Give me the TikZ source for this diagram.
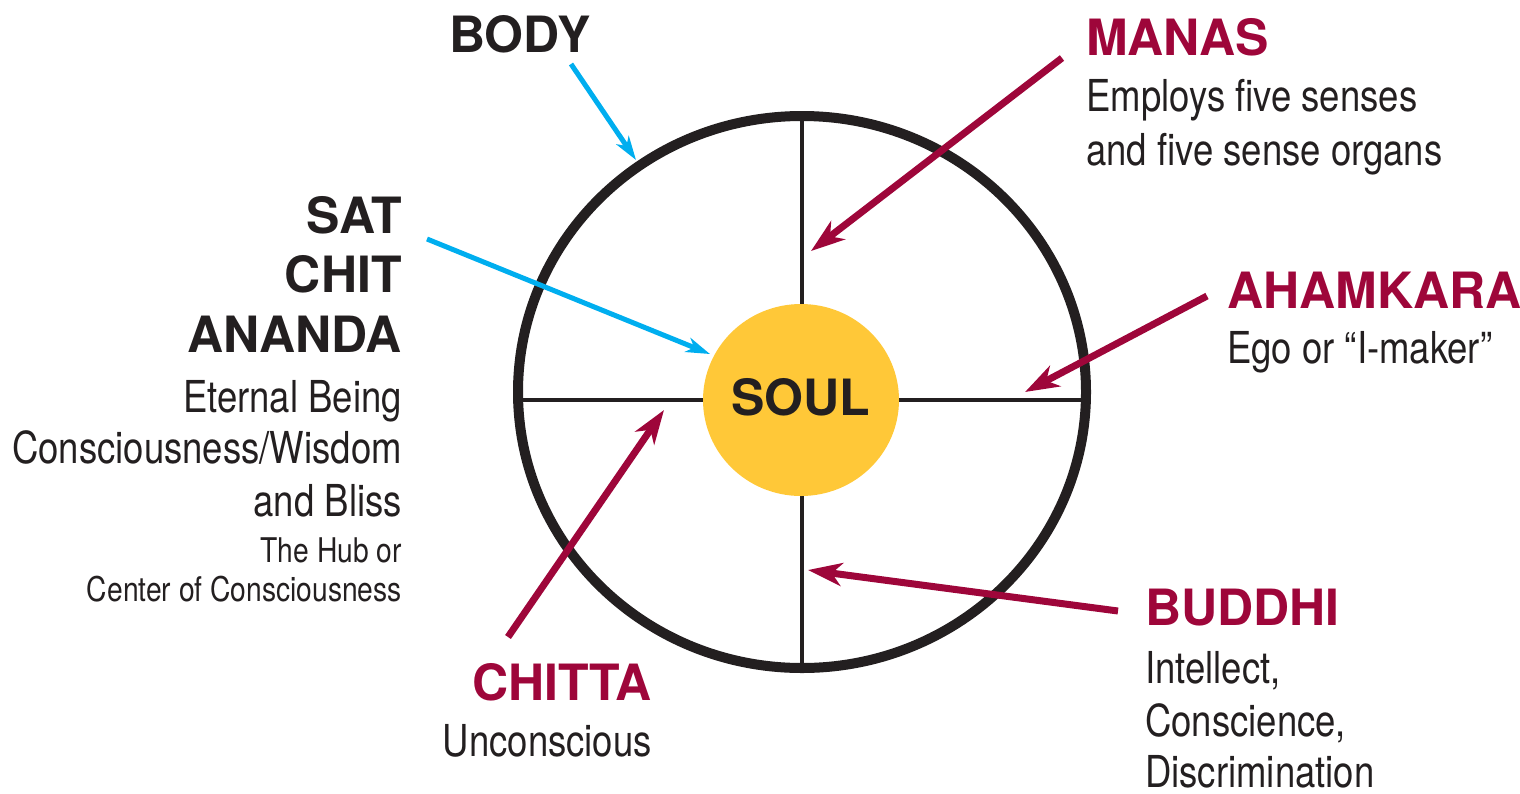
\documentclass[tikz,border=0pt]{standalone}
\usepackage{fontspec}
\setmainfont{TeX Gyre Heros}
\newfontfamily\condfont{TeX Gyre Heros}[FakeStretch=0.83]
\usetikzlibrary{arrows.meta,shapes.geometric}
\definecolor{maroon}{RGB}{158,6,58}
\definecolor{sky}{RGB}{0,174,239}
\definecolor{gold}{RGB}{255,200,56}
\definecolor{ink}{RGB}{35,31,32}
\tikzset{
  head/.style={inner sep=0, text=ink, font=\bfseries\fontsize{50}{50}\selectfont},
  mhead/.style={head, text=maroon},
  desc/.style={inner sep=0, text=ink, font=\condfont\fontsize{44}{44}\selectfont},
  smalldesc/.style={inner sep=0, text=ink, font=\condfont\fontsize{34}{34}\selectfont},
  marrow/.style={draw=maroon, line width=7pt, -{Stealth[length=34pt,width=23pt,inset=10pt]}},
  barrow/.style={draw=sky, line width=5pt, -{Stealth[length=24pt,width=15pt,inset=7pt]}},
  spoke/.style={draw=ink, line width=4pt},
}
\begin{document}
\begin{tikzpicture}[x=1pt,y=-1pt]
\useasboundingbox (0,0) rectangle (1520,793);
% spokes
\coordinate (hl) at (518,400); \coordinate (hr) at (1086,400);
\coordinate (vt) at (802,116); \coordinate (vb) at (802,668);
\draw[spoke] (hl) -- (hr);
\draw[spoke] (vt) -- (vb);
% rim and soul
\node[ellipse, draw=ink, line width=10pt, minimum width=568pt, minimum height=552pt, inner sep=0] (rim) at (802,392) {};
\node[ellipse, fill=gold, minimum width=196pt, minimum height=192pt, inner sep=0] (soul) at (801,400) {};
\node[head, anchor=base] (soultext) at (801,415) {SOUL};
% left block
\node[head, anchor=base west] (body) at (449,52) {BODY};
\node[head, anchor=base east] (sat) at (402,233) {SAT};
\node[head, anchor=base east] (chit) at (402,292) {CHIT};
\node[head, anchor=base east] (ananda) at (402,352) {ANANDA};
\node[desc, anchor=base east] (eternal) at (402,412) {Eternal Being};
\node[desc, anchor=base east] (wisdom) at (402,463) {Consciousness/Wisdom};
\node[desc, anchor=base east] (bliss) at (402,516) {and Bliss};
\node[smalldesc, anchor=base east] (hub) at (402,562) {The Hub or};
\node[smalldesc, anchor=base east] (center) at (402,601) {Center of Consciousness};
% right block
\node[mhead, anchor=base west] (manas) at (1086,55) {MANAS};
\node[desc, anchor=base west] (employs) at (1086,111) {Employs five senses};
\node[desc, anchor=base west] (organs) at (1086,165) {and five sense organs};
\node[mhead, anchor=base west] (ahamkara) at (1227,308) {AHAMKARA};
\node[desc, anchor=base west] (ego) at (1227,363) {Ego or “I-maker”};
\node[mhead, anchor=base west] (buddhi) at (1145,625) {BUDDHI};
\node[desc, anchor=base west] (intellect) at (1145,683) {Intellect,};
\node[desc, anchor=base west] (conscience) at (1145,736) {Conscience,};
\node[desc, anchor=base west] (discrim) at (1145,787) {Discrimination};
% bottom
\node[mhead, anchor=base east] (chitta) at (652,700) {CHITTA};
\node[desc, anchor=base east] (uncon) at (652,756) {Unconscious};
% arrow ends
\coordinate (bodyS) at (571,64);   \coordinate (bodyT) at (636,160);
\coordinate (satS) at (427,239);   \coordinate (satT) at (710,354);
\coordinate (manasS) at (1062,58); \coordinate (manasT) at (811,251);
\coordinate (ahamS) at (1207,296); \coordinate (ahamT) at (1025,392);
\coordinate (budS) at (1118,611);  \coordinate (budT) at (808,570);
\coordinate (chitS) at (508,637);  \coordinate (chitT) at (664,410);
\draw[barrow] (bodyS) -- (bodyT);
\draw[barrow] (satS) -- (satT);
\draw[marrow] (manasS) -- (manasT);
\draw[marrow] (ahamS) -- (ahamT);
\draw[marrow] (budS) -- (budT);
\draw[marrow] (chitS) -- (chitT);
\end{tikzpicture}
\end{document}
